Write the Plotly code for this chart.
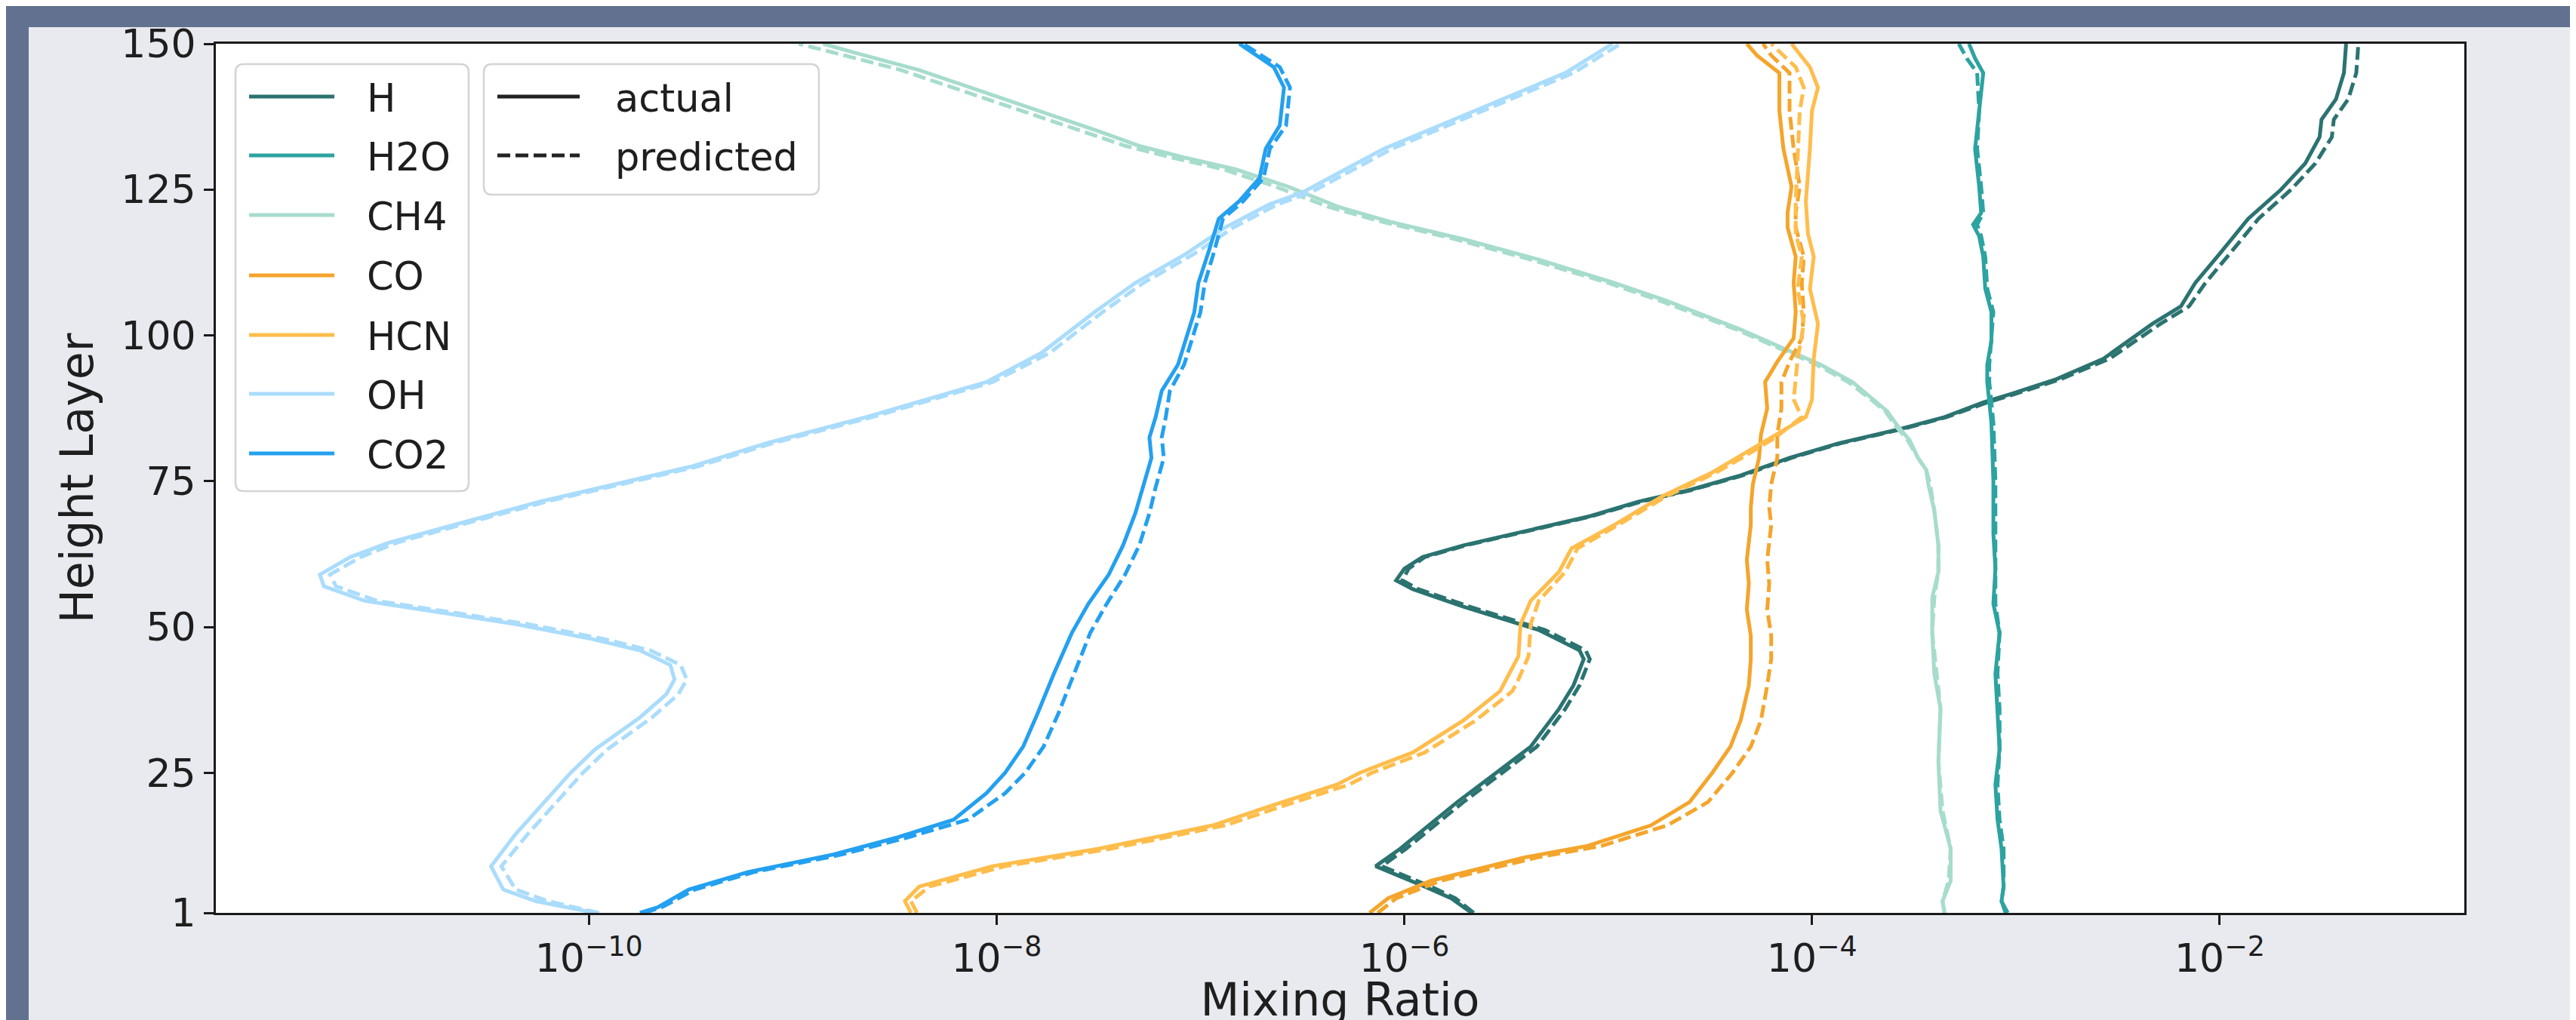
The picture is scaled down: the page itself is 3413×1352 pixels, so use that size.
import plotly.graph_objects as go

# ---------------- data ----------------
species = ["H", "H2O", "CH4", "CO", "HCN", "OH", "CO2"]
colors = {"H": "#2b7370", "H2O": "#2ca3a1", "CH4": "#a7dccd", "CO": "#f4a52c",
          "HCN": "#ffbd4c", "OH": "#aadcfc", "CO2": "#24a0f0"}

H_layer = [1, 3.5, 5.5, 8.5, 9, 12, 15.5, 20, 25, 29.5, 36, 40, 44.5, 46, 49.5, 53.5, 56.5, 58, 60, 62, 64, 67, 69,
           71.5, 73.5, 76, 79, 81.5, 84, 86, 88.5, 90, 92.5, 96, 102, 105, 109, 114, 120, 125, 129.5, 134, 137, 140.5,
           145, 150]
H_actual = [2.14e-6, 1.70e-6, 1.26e-6, 7.76e-7, 7.24e-7, 9.55e-7, 1.26e-6, 1.82e-6, 2.82e-6, 4.17e-6, 5.75e-6,
            6.76e-6, 7.59e-6, 7.24e-6, 4.57e-6, 1.95e-6, 1.10e-6, 9.12e-7, 1.00e-6, 1.23e-6, 1.95e-6, 4.57e-6,
            8.13e-6, 1.41e-5, 2.51e-5, 4.47e-5, 7.76e-5, 1.35e-4, 2.75e-4, 4.47e-4, 6.92e-4, 9.55e-4, 1.58e-3,
            2.69e-3, 4.68e-3, 6.46e-3, 7.59e-3, 1.00e-2, 1.38e-2, 2.00e-2, 2.63e-2, 3.09e-2, 3.16e-2, 3.72e-2,
            4.07e-2, 4.17e-2]
H_pred = [2.19e-6, 1.78e-6, 1.35e-6, 8.32e-7, 7.76e-7, 1.02e-6, 1.35e-6, 1.95e-6, 3.02e-6, 4.47e-6, 6.17e-6,
          7.24e-6, 8.13e-6, 7.76e-6, 4.90e-6, 2.09e-6, 1.17e-6, 9.77e-7, 1.05e-6, 1.26e-6, 2.00e-6, 4.68e-6,
          8.32e-6, 1.45e-5, 2.57e-5, 4.57e-5, 7.94e-5, 1.38e-4, 2.82e-4, 4.57e-4, 7.24e-4, 1.00e-3, 1.66e-3,
          2.88e-3, 5.13e-3, 7.08e-3, 8.51e-3, 1.12e-2, 1.55e-2, 2.24e-2, 2.95e-2, 3.55e-2, 3.63e-2, 4.27e-2,
          4.68e-2, 4.79e-2]

H2O_layer = [1, 3, 5.5, 12, 17, 23, 29, 36, 42, 49, 54, 60, 66, 75, 85, 92, 95, 99, 104, 108, 113.5, 117, 119, 121,
             125.5, 132, 138.5, 145, 147.5, 150]
H2O_actual = [9.12e-4, 8.51e-4, 8.71e-4, 8.51e-4, 8.13e-4, 7.94e-4, 8.32e-4, 8.13e-4, 7.94e-4, 8.32e-4, 7.76e-4,
              7.94e-4, 7.76e-4, 7.76e-4, 7.59e-4, 7.24e-4, 7.24e-4, 7.59e-4, 7.59e-4, 7.08e-4, 6.92e-4, 6.61e-4,
              6.17e-4, 6.76e-4, 6.61e-4, 6.31e-4, 6.61e-4, 6.92e-4, 6.31e-4, 5.89e-4]
H2O_pred = [8.91e-4, 8.51e-4, 8.71e-4, 8.71e-4, 8.32e-4, 8.13e-4, 8.32e-4, 8.32e-4, 8.13e-4, 8.32e-4, 7.94e-4,
            7.94e-4, 7.94e-4, 7.94e-4, 7.76e-4, 7.41e-4, 7.41e-4, 7.59e-4, 7.76e-4, 7.24e-4, 7.08e-4, 6.76e-4,
            6.46e-4, 6.92e-4, 6.76e-4, 6.46e-4, 6.61e-4, 6.46e-4, 5.75e-4, 5.25e-4]

CH4_layer = [1, 3, 6.5, 12, 18.5, 27, 36, 42, 49, 55, 59.5, 64, 70, 74.5, 77, 79, 82, 84.5, 87, 89, 92, 95, 101, 106,
             109, 113, 116.5, 119.5, 122, 125.5, 128.5, 130.5, 132.5, 135, 140, 145.5, 148.5, 150]
CH4_actual = [4.47e-4, 4.37e-4, 4.79e-4, 4.79e-4, 4.27e-4, 4.17e-4, 4.27e-4, 3.98e-4, 3.89e-4, 3.89e-4, 4.17e-4,
              4.17e-4, 3.98e-4, 3.72e-4, 3.63e-4, 3.31e-4, 3.02e-4, 2.63e-4, 2.34e-4, 2.00e-4, 1.58e-4, 1.10e-4,
              4.47e-5, 1.91e-5, 1.07e-5, 4.57e-6, 1.95e-6, 8.51e-7, 4.79e-7, 2.69e-7, 1.48e-7, 8.32e-8, 5.01e-8,
              3.16e-8, 1.20e-8, 4.17e-9, 2.00e-9, 1.41e-9]
CH4_pred = [4.47e-4, 4.37e-4, 4.68e-4, 4.79e-4, 4.37e-4, 4.17e-4, 4.27e-4, 4.07e-4, 3.89e-4, 3.98e-4, 4.17e-4,
            4.17e-4, 3.98e-4, 3.80e-4, 3.63e-4, 3.31e-4, 2.95e-4, 2.57e-4, 2.29e-4, 1.95e-4, 1.51e-4, 1.05e-4,
            4.27e-5, 1.78e-5, 1.00e-5, 4.17e-6, 1.78e-6, 7.76e-7, 4.27e-7, 2.34e-7, 1.29e-7, 7.24e-8, 4.27e-8,
            2.63e-8, 1.00e-8, 3.39e-9, 1.58e-9, 1.07e-9]

CO_layer = [1, 3.5, 6.5, 10.5, 12.5, 16, 20, 25, 29.5, 34, 40, 44.5, 48.5, 53, 57.5, 61.5, 67.5, 70.5, 74.5, 79, 83,
            87.5, 92, 95.5, 99.5, 104, 109, 113.5, 118.5, 121, 125.5, 132, 138.5, 145, 148, 150]
CO_actual = [6.76e-7, 8.32e-7, 1.35e-6, 3.89e-6, 7.94e-6, 1.62e-5, 2.51e-5, 3.24e-5, 3.98e-5, 4.47e-5, 4.90e-5,
             5.01e-5, 5.01e-5, 4.79e-5, 4.90e-5, 4.79e-5, 5.01e-5, 5.01e-5, 5.13e-5, 5.50e-5, 5.62e-5, 6.03e-5,
             5.89e-5, 6.76e-5, 8.13e-5, 8.32e-5, 8.13e-5, 8.32e-5, 7.59e-5, 7.59e-5, 7.94e-5, 7.24e-5, 6.92e-5,
             6.92e-5, 5.37e-5, 4.79e-5]
CO_pred = [7.41e-7, 9.12e-7, 1.51e-6, 4.47e-6, 9.33e-6, 1.95e-5, 3.09e-5, 4.07e-5, 5.01e-5, 5.62e-5, 6.03e-5,
           6.31e-5, 6.31e-5, 6.03e-5, 6.17e-5, 6.03e-5, 6.31e-5, 6.17e-5, 6.31e-5, 6.76e-5, 6.76e-5, 7.08e-5,
           7.08e-5, 7.76e-5, 8.91e-5, 9.12e-5, 8.91e-5, 9.12e-5, 8.32e-5, 8.32e-5, 8.71e-5, 8.13e-5, 7.76e-5,
           7.76e-5, 6.31e-5, 5.75e-5]

HCN_layer = [1, 3, 5.5, 9, 12, 16, 19.5, 23, 25, 28.5, 34, 39, 41, 45, 50.5, 54.5, 59.5, 63.5, 67.5, 72.5, 76.5,
             79.5, 82.5, 86, 89, 96, 102, 108, 113.5, 117.5, 123, 132, 138.5, 142.5, 146, 150]
HCN_actual = [3.80e-9, 3.55e-9, 4.17e-9, 9.55e-9, 3.16e-8, 1.15e-7, 2.29e-7, 4.68e-7, 6.03e-7, 1.10e-6, 1.95e-6,
              2.95e-6, 3.16e-6, 3.63e-6, 3.72e-6, 4.17e-6, 5.75e-6, 6.61e-6, 1.07e-5, 1.86e-5, 3.24e-5, 4.57e-5,
              6.31e-5, 9.33e-5, 1.00e-4, 1.02e-4, 1.07e-4, 9.77e-5, 1.02e-4, 9.55e-5, 9.33e-5, 9.77e-5, 1.00e-4,
              1.07e-4, 9.77e-5, 7.94e-5]
HCN_pred = [4.07e-9, 3.80e-9, 4.68e-9, 1.10e-8, 3.63e-8, 1.32e-7, 2.63e-7, 5.37e-7, 6.92e-7, 1.26e-6, 2.24e-6,
            3.39e-6, 3.63e-6, 4.07e-6, 4.17e-6, 4.57e-6, 6.17e-6, 7.08e-6, 1.12e-5, 1.95e-5, 3.39e-5, 4.79e-5,
            6.61e-5, 8.91e-5, 8.13e-5, 8.51e-5, 9.12e-5, 8.51e-5, 8.91e-5, 8.32e-5, 8.32e-5, 8.51e-5, 8.71e-5,
            9.12e-5, 8.32e-5, 6.31e-5]

OH_layer = [1, 3, 5, 9, 14.5, 21.5, 25, 29, 31.5, 34.5, 38.5, 41, 43.5, 46, 48, 50.5, 52.5, 54.5, 57, 59, 62, 64.5,
            68, 71.5, 74.5, 77.5, 81.5, 86, 92, 97, 104, 109, 114, 118.5, 122.5, 124.5, 132, 136.5, 145, 150]
OH_actual = [1.07e-10, 5.50e-11, 3.80e-11, 3.31e-11, 4.37e-11, 6.61e-11, 8.13e-11, 1.07e-10, 1.35e-10, 1.78e-10,
             2.40e-10, 2.63e-10, 2.51e-10, 1.78e-10, 1.02e-10, 4.37e-11, 1.86e-11, 7.94e-12, 5.01e-12, 4.79e-12,
             6.76e-12, 1.05e-11, 2.45e-11, 5.75e-11, 1.35e-10, 3.16e-10, 7.41e-10, 2.29e-9, 8.91e-9, 1.66e-8,
             3.02e-8, 4.79e-8, 8.51e-8, 1.32e-7, 2.19e-7, 3.16e-7, 7.94e-7, 1.62e-6, 6.17e-6, 1.05e-5]
OH_pred = [1.12e-10, 6.31e-11, 4.37e-11, 3.72e-11, 5.01e-11, 7.59e-11, 9.33e-11, 1.23e-10, 1.55e-10, 2.04e-10,
           2.75e-10, 3.02e-10, 2.82e-10, 2.00e-10, 1.17e-10, 5.01e-11, 2.14e-11, 9.12e-12, 5.75e-12, 5.37e-12,
           7.59e-12, 1.15e-11, 2.63e-11, 6.17e-11, 1.45e-10, 3.39e-10, 7.94e-10, 2.45e-9, 9.55e-9, 1.82e-8,
           3.31e-8, 5.25e-8, 9.33e-8, 1.45e-7, 2.40e-7, 3.47e-7, 8.71e-7, 1.78e-6, 6.76e-6, 1.15e-5]

CO2_layer = [1, 2, 5, 8, 11, 14, 17, 21.5, 25, 29.5, 35, 42, 49, 54, 59, 64, 69.5, 74, 79, 82.5, 86, 90.5, 95, 104,
             109, 114.5, 120, 123, 127, 132, 136, 142.5, 146, 150]
CO2_actual = [1.78e-10, 2.19e-10, 3.09e-10, 6.03e-10, 1.58e-9, 3.31e-9, 6.17e-9, 8.91e-9, 1.10e-8, 1.35e-8, 1.58e-8,
              1.91e-8, 2.34e-8, 2.82e-8, 3.55e-8, 4.17e-8, 4.79e-8, 5.25e-8, 5.75e-8, 5.62e-8, 6.03e-8, 6.46e-8,
              7.76e-8, 9.33e-8, 9.77e-8, 1.10e-7, 1.23e-7, 1.55e-7, 1.95e-7, 2.09e-7, 2.45e-7, 2.57e-7, 2.29e-7,
              1.55e-7]
CO2_pred = [1.86e-10, 2.29e-10, 3.31e-10, 6.46e-10, 1.74e-9, 3.72e-9, 7.24e-9, 1.10e-8, 1.38e-8, 1.70e-8, 2.00e-8,
            2.40e-8, 2.88e-8, 3.47e-8, 4.27e-8, 5.01e-8, 5.62e-8, 6.03e-8, 6.61e-8, 6.46e-8, 6.76e-8, 7.08e-8,
            8.32e-8, 1.00e-7, 1.05e-7, 1.17e-7, 1.29e-7, 1.62e-7, 2.04e-7, 2.19e-7, 2.63e-7, 2.75e-7, 2.45e-7,
            1.62e-7]

x_tickvals = [1e-10, 1e-8, 1e-6, 1e-4, 1e-2]
x_ticktext = ["10<sup>\u221210</sup>", "10<sup>\u22128</sup>", "10<sup>\u22126</sup>",
              "10<sup>\u22124</sup>", "10<sup>\u22122</sup>"]
y_tickvals = [1, 25, 50, 75, 100, 125, 150]

series = {
    "H": (H_layer, H_actual, H_pred),
    "H2O": (H2O_layer, H2O_actual, H2O_pred),
    "CH4": (CH4_layer, CH4_actual, CH4_pred),
    "CO": (CO_layer, CO_actual, CO_pred),
    "HCN": (HCN_layer, HCN_actual, HCN_pred),
    "OH": (OH_layer, OH_actual, OH_pred),
    "CO2": (CO2_layer, CO2_actual, CO2_pred),
}

# ---------------- figure ----------------
W, Hgt = 3413, 1352
L, R, T, B = 278, 3257, 50, 1202
FONT = "DejaVu Sans"
TXT = "#1e1e1e"
LW = 5
DASH = "17px,7px"
DARK = "#62718f"


def px(x):
    return (x - L) / (R - L)


def py(y):
    return (B - y) / (B - T)


fig = go.Figure()
for sp in species:
    lay, act, pred = series[sp]
    fig.add_trace(go.Scatter(x=act, y=lay, mode="lines", name=sp + " actual",
                             line=dict(color=colors[sp], width=LW), showlegend=False))
    fig.add_trace(go.Scatter(x=pred, y=lay, mode="lines", name=sp + " predicted",
                             line=dict(color=colors[sp], width=LW, dash=DASH), showlegend=False))

shapes = []
# dark surroundings outside the light figure panel (all outside the plot area)
for (a, b, c, d) in [(0, 0, W, 28), (0, 0, 30, Hgt), (3398, 0, W, Hgt)]:
    shapes.append(dict(type="rect", xref="paper", yref="paper", layer="below",
                       x0=px(a), x1=px(c), y0=py(d), y1=py(b),
                       fillcolor=DARK, line=dict(width=0)))


def rrect(x0, y0, x1, y1, r=11):
    X0, X1 = px(x0), px(x1)
    Yt, Yb = py(y0), py(y1)
    rx, ry = r / (R - L), r / (B - T)
    return (f"M{X0 + rx},{Yt} L{X1 - rx},{Yt} Q{X1},{Yt} {X1},{Yt - ry} "
            f"L{X1},{Yb + ry} Q{X1},{Yb} {X1 - rx},{Yb} L{X0 + rx},{Yb} "
            f"Q{X0},{Yb} {X0},{Yb + ry} L{X0},{Yt - ry} Q{X0},{Yt} {X0 + rx},{Yt} Z")


# legend 1 (species)
shapes.append(dict(type="path", xref="paper", yref="paper", layer="above",
                   path=rrect(304, 77, 613, 643), fillcolor="rgba(255,255,255,0.92)",
                   line=dict(color="#d4d4d4", width=2.5)))
# legend 2 (line style)
shapes.append(dict(type="path", xref="paper", yref="paper", layer="above",
                   path=rrect(633, 77, 1077, 250), fillcolor="rgba(255,255,255,0.92)",
                   line=dict(color="#d4d4d4", width=2.5)))

annotations = []
leg_y = [120, 198, 277, 357, 436, 514, 593]
for sp, yy in zip(species, leg_y):
    shapes.append(dict(type="line", xref="paper", yref="paper", layer="above",
                       x0=px(322), x1=px(435), y0=py(yy), y1=py(yy),
                       line=dict(color=colors[sp], width=LW)))
    annotations.append(dict(x=px(476), y=py(yy + 2), xref="paper", yref="paper", text=sp,
                            showarrow=False, xanchor="left", yanchor="middle",
                            font=dict(family=FONT, size=51, color=TXT)))
for lab, yy, dash in [("actual", 120, "solid"), ("predicted", 198, DASH)]:
    shapes.append(dict(type="line", xref="paper", yref="paper", layer="above",
                       x0=px(651), x1=px(760), y0=py(yy), y1=py(yy),
                       line=dict(color="#222222", width=LW, dash=dash)))
    annotations.append(dict(x=px(805), y=py(yy + 2), xref="paper", yref="paper", text=lab,
                            showarrow=False, xanchor="left", yanchor="middle",
                            font=dict(family=FONT, size=51, color=TXT)))

axis_common = dict(showline=True, linecolor="#1a1a1a", linewidth=3, mirror=True,
                   ticks="outside", ticklen=13, tickwidth=3, tickcolor="#1a1a1a",
                   showgrid=False, zeroline=False, automargin=False,
                   tickfont=dict(family=FONT, size=52, color=TXT))

fig.update_layout(
    width=W, height=Hgt,
    margin=dict(l=L, r=W - R, t=T, b=Hgt - B, pad=0),
    paper_bgcolor="#e8eaef",
    plot_bgcolor="#ffffff",
    font=dict(family=FONT, color=TXT),
    showlegend=False,
    xaxis=dict(type="log", range=[-11.83, -0.80], tickvals=x_tickvals, ticktext=x_ticktext,
               title=dict(text="Mixing Ratio", font=dict(family=FONT, size=60, color=TXT), standoff=18),
               **axis_common),
    yaxis=dict(range=[1, 150], tickvals=y_tickvals,
               title=dict(text="Height Layer", font=dict(family=FONT, size=60, color=TXT), standoff=18),
               **axis_common),
    shapes=shapes,
    annotations=annotations,
)

fig.write_html("out.html")
